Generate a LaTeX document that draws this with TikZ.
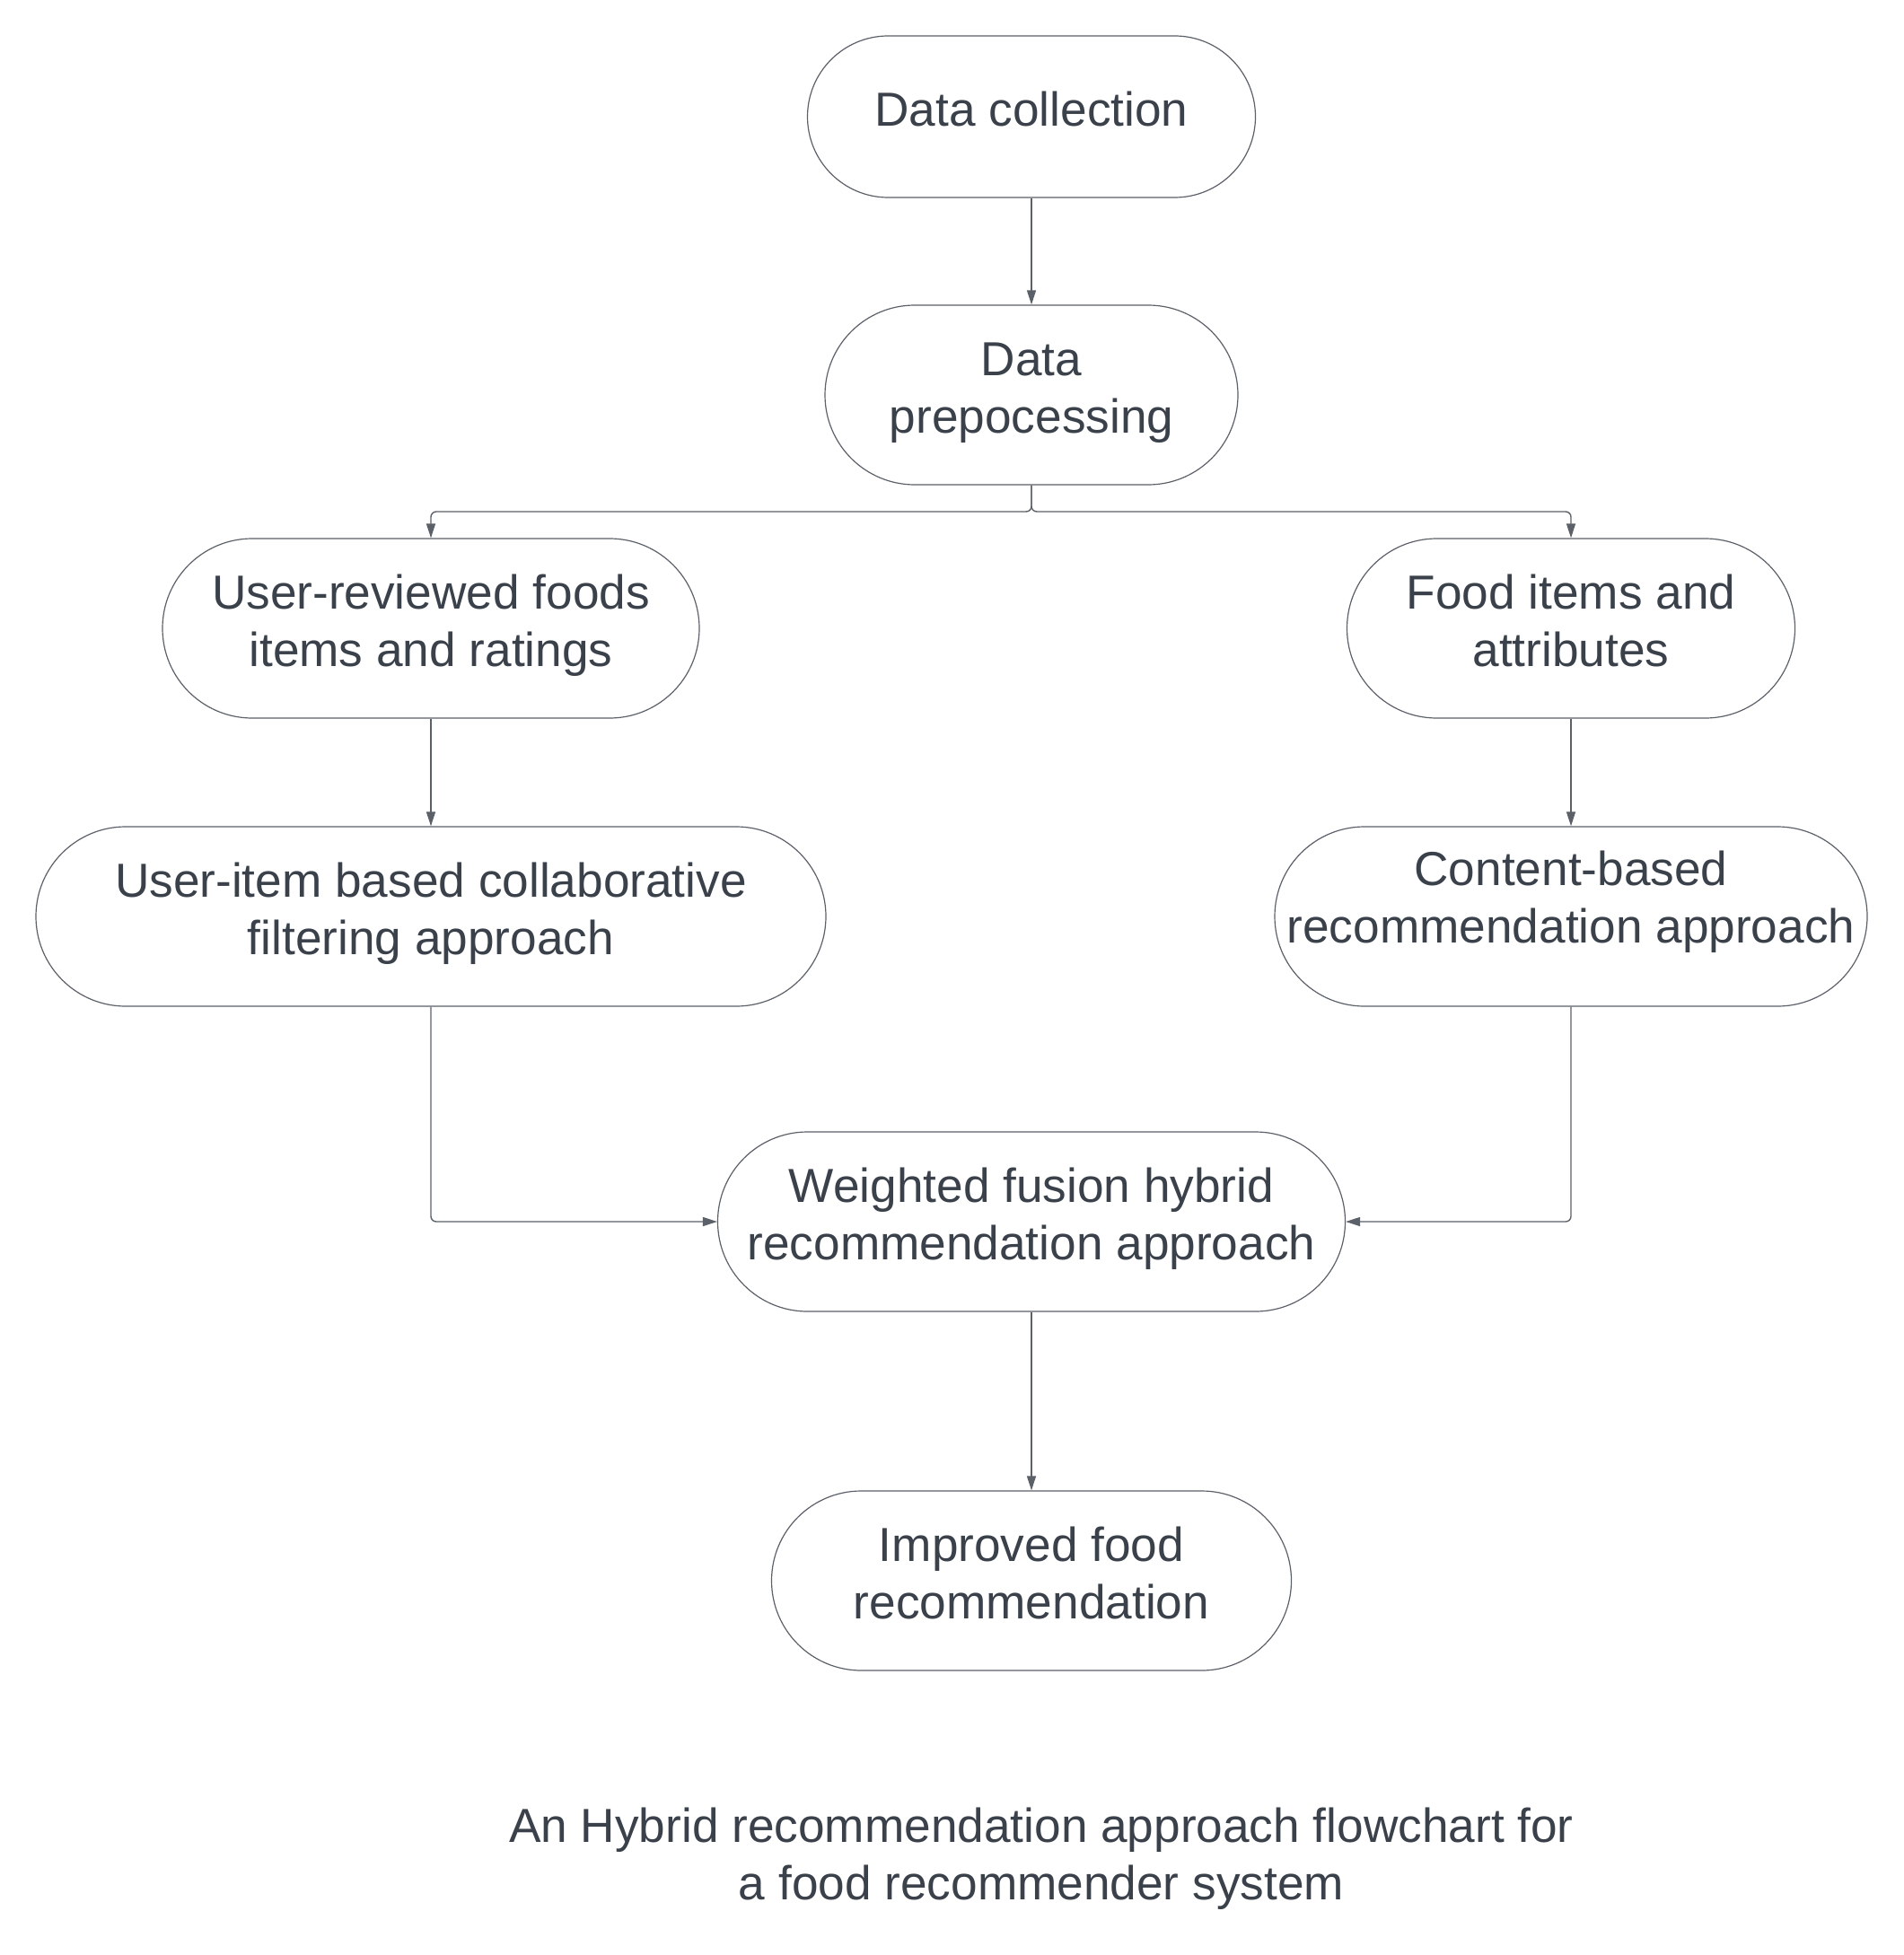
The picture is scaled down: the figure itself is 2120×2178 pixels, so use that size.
\documentclass[tikz,border=0pt]{standalone}
\usepackage{fontspec}
\setmainfont{Liberation Sans}
\usetikzlibrary{arrows.meta}
\definecolor{textc}{HTML}{3A414A}
\definecolor{linec}{HTML}{5C6169}
\begin{document}
\begin{tikzpicture}[x=0.5pt,y=-0.5pt,
  box/.style={draw=linec, line width=0.6pt, fill=white, inner sep=0pt,
    minimum height=100pt, rounded corners=50pt},
  boxtext/.style={text=textc, align=center, inner sep=0pt, yshift=1pt,
    font=\fontsize{26.6}{32}\selectfont},
  arr/.style={draw=linec, line width=0.7pt, rounded corners=3pt, -{Triangle[length=8pt,width=5pt]}},
  captiontext/.style={text=textc, align=center, font=\fontsize{26.6}{32}\selectfont}]
\fill[white] (0,0) rectangle (2120,2178);
\useasboundingbox (0,0) rectangle (2120,2178);
\node[box, minimum width=249.5pt, minimum height=90pt, rounded corners=45pt,
  label={[boxtext]center:\strut Data collection}] (A) at (1149,130) {};
\node[box, minimum width=230pt, label={[boxtext]center:{\strut Data\\\strut prepocessing}}] (B) at (1149,440) {};
\node[box, minimum width=299pt, label={[boxtext]center:{\strut User-reviewed foods\\\strut items and ratings}}] (C) at (480,700) {};
\node[box, minimum width=249.5pt, label={[boxtext]center:{\strut Food items and\\\strut attributes}}] (D) at (1750,700) {};
\node[box, minimum width=440pt, label={[boxtext]center:{\strut User-item based collaborative\\\strut filtering approach}}] (E) at (480,1021) {};
\node[box, minimum width=330pt, label={[boxtext, yshift=6.5pt]center:{\strut Content-based\\\strut recommendation approach}}] (F) at (1750,1021) {};
\node[box, minimum width=349.5pt, label={[boxtext]center:{\strut Weighted fusion hybrid\\\strut recommendation approach}}] (G) at (1149,1361) {};
\node[box, minimum width=289.5pt, label={[boxtext]center:{\strut Improved food\\\strut recommendation}}] (H) at (1149,1761) {};
\node[captiontext] (T) at (1160,2071) {An Hybrid recommendation approach flowchart for\\a food recommender system};
\coordinate (S) at (1149,570);
\draw[arr] (A) -- (B);
\draw[arr] (B.south) -- (S) -| (C.north);
\draw[arr] (B.south) -- (S) -| (D.north);
\draw[arr] (C) -- (E);
\draw[arr] (D) -- (F);
\draw[arr] (E.south) |- (G.west);
\draw[arr] (F.south) |- (G.east);
\draw[arr] (G) -- (H);
\end{tikzpicture}
\end{document}
